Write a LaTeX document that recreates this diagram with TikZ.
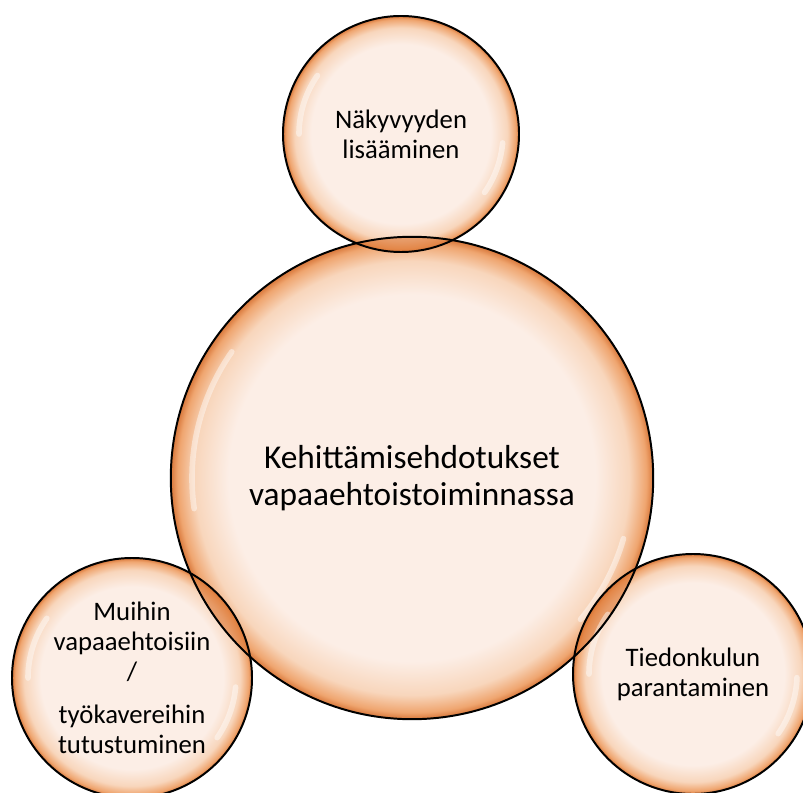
\documentclass[tikz,border=0pt]{standalone}
\usepackage{fontspec}
\setmainfont{Carlito}

\definecolor{bubin}{HTML}{FCEEE6}
\definecolor{bubmid}{HTML}{F8D6BC}
\definecolor{bubedge}{HTML}{EFA56F}
\definecolor{bubout}{HTML}{D8773A}
\definecolor{lens}{HTML}{DC7430}

\pgfdeclareradialshading{bubble}{\pgfpoint{0bp}{0bp}}{color(0bp)=(bubin); color(19bp)=(bubin); color(22.5bp)=(bubmid); color(24.3bp)=(bubedge); color(25bp)=(bubout); color(50bp)=(bubout)}

\tikzset{
  ball/.style={circle, shading=bubble, align=center, inner sep=0pt},
  small/.style={font=\fontsize{19}{21.5}\selectfont},
  rim/.style={draw=black, line width=1.4pt},
  gloss/.style={white, line width=4pt, line cap=round, opacity=0.45},
  overlap/.style={fill=lens, fill opacity=0.6},
}

\begin{document}
\begin{tikzpicture}
\useasboundingbox (0,0) rectangle (20.075,19.8);

%% bubbles
\node[ball, minimum size=12.06cm, font=\fontsize{23.7}{26.5}\selectfont] (keh) at (10.3,7.85) {Kehittämisehdotukset\\vapaaehtoistoiminnassa};
\node[ball, small, minimum size=5.9cm] (nak) at (10.025,16.45) {Näkyvyyden\\lisääminen};
\node[ball, small, minimum size=6cm] (muu) at (3.3,2.85) {Muihin\\vapaaehtoisiin\\/\\[9pt]työkavereihin\\tutustuminen};
\node[ball, small, minimum size=6cm] (tie) at (17.325,2.95) {Tiedonkulun\\parantaminen};

%% overlaps
\begin{scope}
\clip (keh.center) circle (6.03);
\fill[overlap] (nak.center) circle (2.95);
\fill[overlap] (muu.center) circle (3);
\fill[overlap] (tie.center) circle (3);
\end{scope}

%% highlights
\draw[gloss] (keh.center) ++(145:5.5) arc (145:188:5.5);
\draw[gloss] (keh.center) ++(-16:5.5) arc (-16:-40:5.5);
\draw[gloss] (nak.center) ++(145:2.55) arc (145:180:2.55);
\draw[gloss] (nak.center) ++(-5:2.55) arc (-5:-35:2.55);
\draw[gloss] (muu.center) ++(145:2.6) arc (145:180:2.6);
\draw[gloss] (muu.center) ++(-5:2.6) arc (-5:-35:2.6);
\draw[gloss] (tie.center) ++(145:2.6) arc (145:180:2.6);
\draw[gloss] (tie.center) ++(-2:2.6) arc (-2:-35:2.6);

%% outlines
\draw[rim] (keh.center) circle (6.03);
\draw[rim] (nak.center) circle (2.95);
\draw[rim] (muu.center) circle (3);
\draw[rim] (tie.center) circle (3);
\end{tikzpicture}
\end{document}
